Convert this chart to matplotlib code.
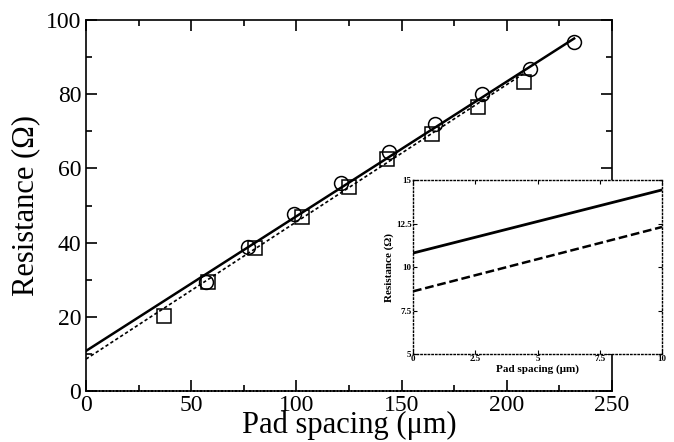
import matplotlib
matplotlib.use("Agg")
import matplotlib.pyplot as plt
import numpy as np
from matplotlib.ticker import MultipleLocator

plt.rcParams['font.family'] = ['Liberation Serif', 'DejaVu Serif']
plt.rcParams['mathtext.fontset'] = 'stix'

# measured points
circ_x = [57, 77, 99, 121, 144, 166, 188, 211, 232]
circ_y = [29.5, 38.9, 47.6, 56.0, 64.5, 72.1, 80.0, 86.8, 94.2]
sq_x = [37, 58, 80.5, 102.5, 125, 143, 164.5, 186.5, 208]
sq_y = [20.2, 29.5, 38.5, 47.0, 55.1, 62.4, 69.4, 76.6, 83.4]

# linear fits (intercept, slope)
fit_solid = (10.8, 0.363)
fit_dash = (8.6, 0.37)

fig = plt.figure(figsize=(6.74, 4.42), dpi=100)
ax = fig.add_axes([86/674, 1 - 391/442, 526/674, 371/442])

xs = np.array([0, max(circ_x)])
ax.plot(xs, fit_solid[0] + fit_solid[1] * xs, color='black', lw=1.8)
xd = np.array([0, max(sq_x)])
ax.plot(xd, fit_dash[0] + fit_dash[1] * xd, color='black', lw=1.2, ls=(0, (2, 1.5)))
ax.plot(circ_x, circ_y, 'o', ms=10, mfc='none', mec='black', mew=1.1)
ax.plot(sq_x, sq_y, 's', ms=9.5, mfc='none', mec='black', mew=1.1)

ax.set_xlim(0, 250)
ax.set_ylim(0, 100)
ax.xaxis.set_major_locator(MultipleLocator(50))
ax.xaxis.set_minor_locator(MultipleLocator(25))
ax.yaxis.set_major_locator(MultipleLocator(20))
ax.yaxis.set_minor_locator(MultipleLocator(10))
ax.tick_params(which='both', direction='in', top=True, right=True, labelsize=17, width=1.2)
ax.tick_params(axis='x', pad=3)
ax.tick_params(which='major', length=8)
ax.tick_params(which='minor', length=4)
for s in ax.spines.values():
    s.set_linewidth(1.2)
ax.spines['bottom'].set_linestyle((0, (1.5, 0.6)))
ax.set_xlabel('Pad spacing (μm)', fontsize=22, labelpad=-4)
ax.set_ylabel('Resistance (Ω)', fontsize=22, labelpad=4)

# inset
ins = fig.add_axes([413/674, 1 - 354/442, 249/674, 174/442])
xi = np.array([0, 10])
ins.plot(xi, fit_solid[0] + fit_solid[1] * xi, color='black', lw=2)
ins.plot(xi, fit_dash[0] + fit_dash[1] * xi, color='black', lw=1.8, ls=(0, (3.5, 1.5)))
ins.set_xlim(0, 10)
ins.set_ylim(5, 15)
ins.set_xticks([0, 2.5, 5, 7.5, 10])
ins.set_xticklabels(['0', '2.5', '5', '7.5', '10'])
ins.set_yticks([5, 7.5, 10, 12.5, 15])
ins.set_yticklabels(['5', '7.5', '10', '12.5', '15'])
ins.tick_params(direction='in', top=True, right=True, length=3, width=0.8, labelsize=6.5, pad=1)
for lab in ins.get_xticklabels() + ins.get_yticklabels():
    lab.set_fontweight('bold')
for s in ins.spines.values():
    s.set_linestyle(':')
    s.set_linewidth(1)
ins.set_xlabel('Pad spacing (μm)', fontsize=8, fontweight='bold', labelpad=1)
ins.set_ylabel('Resistance (Ω)', fontsize=8, fontweight='bold', labelpad=1)

fig.savefig('out.png', dpi=100)
